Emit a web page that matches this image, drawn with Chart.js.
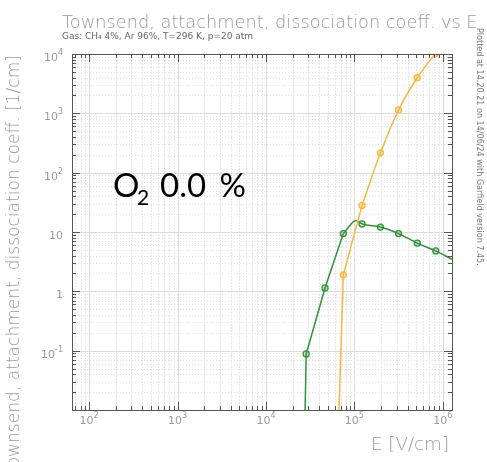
<!DOCTYPE html>
<html>
<head>
<meta charset="utf-8">
<script src="https://cdn.jsdelivr.net/npm/chart.js@4.4.1/dist/chart.umd.min.js"></script>
<style>
  html, body { margin: 0; padding: 0; background: #ffffff; }
  #wrap { width: 487px; height: 462px; position: relative; }
</style>
</head>
<body>
<div id="wrap"><canvas id="c" width="487" height="462"></canvas></div>
<script>
// Electric field points of the gas table [V/cm]
const fieldE = [28500, 46500, 75000, 122000, 197000, 316000, 513000, 832000];
// Coefficients [1/cm]; null = below the plotted range
const townsend = [null, null, 1.9, 28, 216, 1140, 3980, 10300];
const dissociation = [0.088, 1.14, 9.4, 13.7, 12.1, 9.4, 6.5, 4.8];
// Additional points of the interpolating curves (entry into the frame, peak, exit)
const townsendCurveE = [67000, 1270000];
const townsendCurveV = [0.01, 23000];
const dissociationCurveE = [27700, 104500, 1270000];
const dissociationCurveV = [0.01, 15.6, 3.46];
// Below these fields the curves rise steeply and are drawn as straight pieces
const townsendBendE = 122000;
const dissociationBendE = 75000;

// Axis ranges and tick labels
const xRange = [64, 1270000];
const yRange = [0.01, 10000];
const xTickValues = [1e2, 1e3, 1e4, 1e5, 1e6];
const xTickBase = ['10', '10', '10', '10', '10'];
const xTickExp = ['2', '3', '4', '5', '6'];
const yTickValues = [0.1, 1, 10, 100, 1000, 10000];
const yTickBase = ['10', '1', '10', '10', '10', '10'];
const yTickExp = ['-1', '', '', '2', '3', '4'];

const GREEN = '#2f9438';
const YELLOW = '#f6b93b';
const TEXT = '#9a9a9a';
const AXIS = '#555555';
const FONT = '"DejaVu Sans", sans-serif';

function points(es, vs) {
  const out = [];
  es.forEach((e, i) => { if (vs[i] !== null) out.push({ x: e, y: vs[i] }); });
  return out;
}
function curve(es, vs, extraE, extraV) {
  return points(es, vs).concat(points(extraE, extraV)).sort((a, b) => a.x - b.x);
}
function logTicks(min, max) {
  const out = [];
  for (let k = Math.floor(Math.log10(min)); k <= Math.ceil(Math.log10(max)); k++) {
    for (let m = 1; m <= 9; m++) {
      const v = m * Math.pow(10, k);
      if (v >= min * 0.999 && v <= max * 1.001) out.push({ value: v, major: m === 1 });
    }
  }
  return out;
}

// Font size that makes the string span the given width
function fitSize(ctx, text, weight, family, width) {
  ctx.font = weight + ' 20px ' + family;
  return 20 * width / ctx.measureText(text).width;
}

// Grid lines behind the curves
const gridPlugin = {
  id: 'logGrid',
  beforeDatasetsDraw(chart) {
    const { ctx, chartArea: a, scales: { x, y } } = chart;
    ctx.save();
    ctx.lineWidth = 1;
    x.ticks.forEach(t => {
      const px = Math.round(x.getPixelForValue(t.value)) + 0.5;
      ctx.strokeStyle = t.major ? '#dcdcdc' : '#e8e8e8';
      ctx.setLineDash(t.major ? [] : [2, 1]);
      ctx.beginPath(); ctx.moveTo(px, a.top); ctx.lineTo(px, a.bottom); ctx.stroke();
    });
    y.ticks.forEach(t => {
      const py = Math.round(y.getPixelForValue(t.value)) + 0.5;
      ctx.strokeStyle = t.major ? '#dcdcdc' : '#e2e2e2';
      ctx.setLineDash(t.major ? [] : [1, 2]);
      ctx.beginPath(); ctx.moveTo(a.left, py); ctx.lineTo(a.right, py); ctx.stroke();
    });
    ctx.restore();
  }
};

// Frame with inward ticks on all four sides, labels and texts
const framePlugin = {
  id: 'frameText',
  afterDraw(chart) {
    const { ctx, chartArea: a, scales: { x, y } } = chart;
    ctx.save();
    ctx.strokeStyle = AXIS;
    ctx.lineWidth = 1;
    ctx.setLineDash([]);
    ctx.strokeRect(a.left + 0.5, a.top + 0.5, a.right - a.left, a.bottom - a.top);
    ctx.beginPath();
    x.ticks.forEach(t => {
      const px = Math.round(x.getPixelForValue(t.value)) + 0.5;
      const len = t.major ? 8 : 4;
      ctx.moveTo(px, a.bottom); ctx.lineTo(px, a.bottom - len);
      ctx.moveTo(px, a.top); ctx.lineTo(px, a.top + len);
    });
    y.ticks.forEach(t => {
      const py = Math.round(y.getPixelForValue(t.value)) + 0.5;
      const len = t.major ? 8 : 4;
      ctx.moveTo(a.left, py); ctx.lineTo(a.left + len, py);
      ctx.moveTo(a.right, py); ctx.lineTo(a.right - len, py);
    });
    ctx.stroke();

    // Tick labels with superscript exponents
    ctx.fillStyle = TEXT;
    ctx.textBaseline = 'alphabetic';
    const baseFont = '11px ' + FONT, expFont = '8px ' + FONT;
    xTickValues.forEach((v, i) => {
      const px = x.getPixelForValue(v);
      ctx.font = baseFont; const wb = ctx.measureText(xTickBase[i]).width;
      ctx.font = expFont; const we = ctx.measureText(xTickExp[i]).width;
      const x0 = px - (wb + we) / 2;
      ctx.font = baseFont; ctx.textAlign = 'left';
      ctx.fillText(xTickBase[i], x0, a.bottom + 14);
      ctx.font = expFont;
      ctx.fillText(xTickExp[i], x0 + wb, a.bottom + 8);
    });
    yTickValues.forEach((v, i) => {
      const py = y.getPixelForValue(v);
      ctx.font = baseFont; const wb = ctx.measureText(yTickBase[i]).width;
      ctx.font = expFont; const we = yTickExp[i] ? ctx.measureText(yTickExp[i]).width : 0;
      const x0 = a.left - 9 - wb - we;
      ctx.font = baseFont; ctx.textAlign = 'left';
      ctx.fillText(yTickBase[i], x0, py + 7);
      if (yTickExp[i]) { ctx.font = expFont; ctx.fillText(yTickExp[i], x0 + wb, py + 1); }
    });

    // Title and gas description
    const title = 'Townsend, attachment, dissociation coeff. vs E';
    const ts = fitSize(ctx, title, '300', FONT, 416);
    ctx.font = '300 ' + ts + 'px ' + FONT;
    ctx.fillStyle = TEXT; ctx.textAlign = 'left';
    ctx.fillText(title, 62, 28);
    ctx.font = '9px ' + FONT;
    ctx.fillStyle = '#666666';
    ctx.fillText('Gas: CH\u2084 4%, Ar 96%, T=296 K, p=20 atm', 62, 39);

    // Axis titles
    const ytitle = 'Townsend, attachment, dissociation coeff. [1/cm]';
    ctx.font = '300 ' + (ts * 0.96) + 'px ' + FONT;
    ctx.fillStyle = TEXT;
    ctx.save();
    ctx.translate(19, 55);
    ctx.rotate(-Math.PI / 2);
    ctx.textAlign = 'right';
    ctx.fillText(ytitle, 0, 0);
    ctx.restore();
    const xt = 'E [V/cm]';
    const xs = fitSize(ctx, xt, '300', FONT, 78);
    ctx.font = '300 ' + xs + 'px ' + FONT;
    ctx.textAlign = 'right';
    ctx.fillText(xt, 449, 450);

    // Plot stamp along the right edge
    const stamp = 'Plotted at 14.20.21 on 14/06/24 with Garfield version 7.45.';
    const ss = fitSize(ctx, stamp, 'normal', FONT, 238);
    ctx.save();
    ctx.translate(477, 28);
    ctx.rotate(Math.PI / 2);
    ctx.textAlign = 'left';
    ctx.font = ss + 'px ' + FONT;
    ctx.fillStyle = '#777777';
    ctx.fillText(stamp, 0, 0);
    ctx.restore();

    // Oxygen content annotation
    const AF = 'Lato, "Open Sans", sans-serif';
    ctx.fillStyle = '#000000';
    ctx.textAlign = 'left';
    ctx.font = '33px ' + AF;
    ctx.fillText('O', 113, 197);
    ctx.fillText('0.0', 160, 197);
    ctx.textAlign = 'right';
    ctx.fillText('%', 246, 197);
    ctx.textAlign = 'left';
    ctx.font = '21px ' + AF;
    ctx.fillText('2', 137, 205);
    ctx.restore();
  }
};

const logAxis = (range) => ({
  type: 'logarithmic',
  min: range[0],
  max: range[1],
  afterBuildTicks(scale) { scale.ticks = logTicks(range[0], range[1]); },
  ticks: { display: false },
  grid: { display: false },
  border: { display: false }
});

const tCurve = curve(fieldE, townsend, townsendCurveE, townsendCurveV);
const dCurve = curve(fieldE, dissociation, dissociationCurveE, dissociationCurveV);
const lineStyle = (color, data, smooth) => ({
  data, borderColor: color, borderWidth: 1.5, pointRadius: 0, fill: false,
  cubicInterpolationMode: smooth ? 'monotone' : 'default', tension: 0
});
const markerStyle = (color, fillColor, data) => ({
  data, showLine: false, pointRadius: 3, pointBorderWidth: 1.3,
  pointBorderColor: color, pointBackgroundColor: fillColor
});

new Chart(document.getElementById('c'), {
  type: 'line',
  data: {
    datasets: [
      lineStyle(YELLOW, tCurve.filter(p => p.x <= townsendBendE), false),
      lineStyle(YELLOW, tCurve.filter(p => p.x >= townsendBendE), true),
      lineStyle(GREEN, dCurve.filter(p => p.x <= dissociationBendE), false),
      lineStyle(GREEN, dCurve.filter(p => p.x >= dissociationBendE), true),
      markerStyle(YELLOW, 'rgba(246,185,59,0.35)', points(fieldE, townsend)),
      markerStyle(GREEN, 'rgba(47,148,56,0.25)', points(fieldE, dissociation))
    ]
  },
  options: {
    responsive: false,
    animation: false,
    layout: { padding: { left: 64, top: 54, right: 35, bottom: 44 } },
    plugins: { legend: { display: false }, tooltip: { enabled: false } },
    scales: { x: logAxis(xRange), y: logAxis(yRange) }
  },
  plugins: [gridPlugin, framePlugin]
});
</script>
</body>
</html>
